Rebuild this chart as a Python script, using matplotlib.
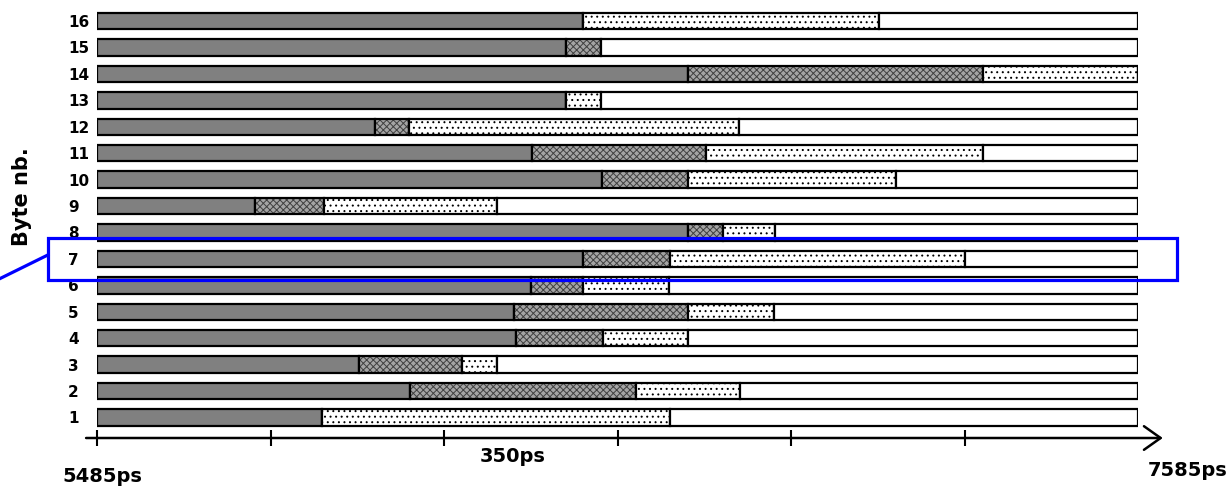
import matplotlib.pyplot as plt
import matplotlib.patches as patches
import numpy as np

# byte numbers, bottom to top
bytes_nb = [1, 2, 3, 4, 5, 6, 7, 8, 9, 10, 11, 12, 13, 14, 15, 16]
# end of each phase (ps)
dark_end = [5939, 6116, 6014, 6330, 6326, 6361, 6465, 6677, 5804, 6504, 6363, 6046, 6431, 6677, 6431, 6465]
cross_end = [5939, 6572, 6221, 6506, 6677, 6465, 6641, 6748, 5943, 6677, 6714, 6114, 6431, 7272, 6502, 6465]
dot_end = [6641, 6782, 6292, 6677, 6851, 6639, 7236, 6853, 6292, 7097, 7272, 6780, 6502, 7585, 6502, 7063]
t_start = 5485
t_end = 7585
t_step = 350
highlight = 7

plt.rcParams['hatch.linewidth'] = 0.7

fig = plt.figure(figsize=(12.3, 4.88), dpi=100)
ax = fig.add_axes([97 / 1230, 0.1174, 1041 / 1230, 0.8666])
ax.set_xlim(t_start, t_end)
ax.set_ylim(0.5, 16.5)

rows = np.array(bytes_nb)
d = np.array(dark_end)
c = np.array(cross_end)
s = np.array(dot_end)
h = 0.62
lw = 1.6
ax.barh(rows, d - t_start, left=t_start, height=h, color='#808080', edgecolor='black', linewidth=lw)
# fine checker look: gray hatch on light gray, then a black outline on top
ax.barh(rows, c - d, left=d, height=h, color='#a4a4a4', edgecolor='#404040', linewidth=0, hatch='xxxxx')
ax.barh(rows, c - d, left=d, height=h, fill=False, edgecolor='black', linewidth=lw)
ax.barh(rows, s - c, left=c, height=h, color='white', edgecolor='black', linewidth=lw, hatch='...')
ax.barh(rows, t_end - s, left=s, height=h, color='white', edgecolor='black', linewidth=lw)

# y labels
ax.set_yticks(rows)
ax.set_yticklabels([str(b) for b in bytes_nb], fontsize=11, fontweight='bold')
ax.tick_params(axis='y', length=0, pad=21)
for lab in ax.get_yticklabels():
    lab.set_ha('left')

# time axis with arrow
for sp in ['top', 'right', 'left']:
    ax.spines[sp].set_visible(False)
ax.spines['bottom'].set_position(('data', 0.224))
ax.spines['bottom'].set_color('none')
ax.set_xticks(np.arange(t_start, t_end, t_step))
ax.set_xticklabels([])
ax.tick_params(axis='x', direction='inout', length=11, width=1.5, color='black')
ax.annotate('', xy=(t_end + 50, 0.224), xytext=(t_start - 22, 0.224),
            arrowprops=dict(arrowstyle='->,head_length=1.2,head_width=0.85', lw=1.8, color='black',
                            shrinkA=0, shrinkB=0),
            annotation_clip=False)

fig.text(102 / 1230, 1 - 476 / 488, f'{t_start}ps', ha='center', va='center', fontsize=14, fontweight='bold')
fig.text(513 / 1230, 1 - 456 / 488, f'{t_step}ps', ha='center', va='center', fontsize=14, fontweight='bold')
fig.text(1188 / 1230, 1 - 471 / 488, f'{t_end}ps', ha='center', va='center', fontsize=14, fontweight='bold')
fig.text(22 / 1230, 1 - 197 / 488, 'Byte nb.', rotation=90, ha='center', va='center', fontsize=15, fontweight='bold')

# highlight box around byte 7
box = patches.Rectangle((5386, highlight - 0.8), 2278, 1.59, fill=False, edgecolor='#0000ff',
                        linewidth=2.3, clip_on=False, zorder=5)
ax.add_patch(box)
ax.plot([5386, 5240], [highlight + 0.15, highlight - 1.2], color='#0000ff', linewidth=2.3,
        clip_on=False, zorder=5)

fig.savefig('out.png', dpi=100)
